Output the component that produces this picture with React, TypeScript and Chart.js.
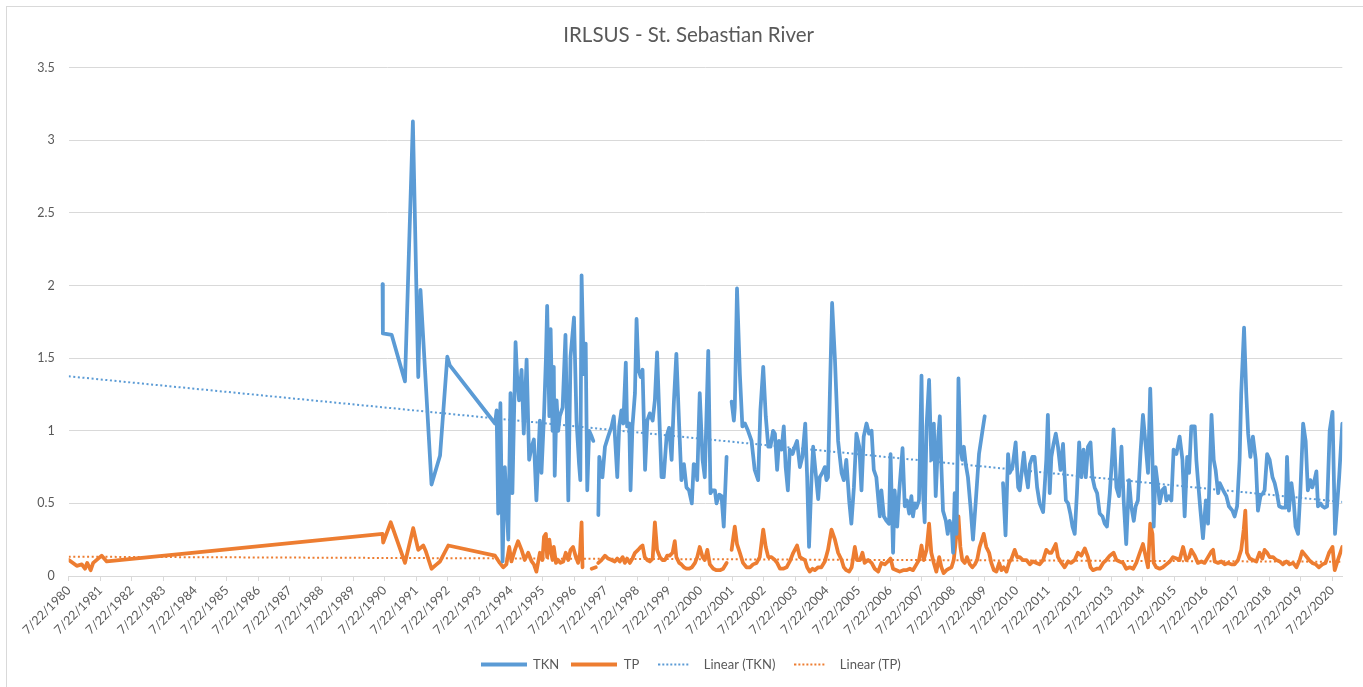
import React, { useEffect, useRef } from "react";
import { Chart, registerables } from "chart.js";

Chart.register(...registerables);

const TITLE = "IRLSUS - St. Sebastian River";
const tickYears = [
  1980, 1981, 1982, 1983, 1984, 1985, 1986, 1987, 1988, 1989, 1990, 1991, 1992, 1993,
  1994, 1995, 1996, 1997, 1998, 1999, 2000, 2001, 2002, 2003, 2004, 2005, 2006, 2007,
  2008, 2009, 2010, 2011, 2012, 2013, 2014, 2015, 2016, 2017, 2018, 2019, 2020,
];
const tickPrefix = "7/22/";
const tickOffset = 0.555; // 22 July as a fraction of the year
const xStart = 1980.555;
const xEnd = 2020.87;

const tknDates = [
  1990.49, 1990.5, 1990.78, 1991.2, 1991.45, 1991.62, 1991.69, 1992.04, 1992.31, 1992.54, 1992.62,
  1994.05, 1994.1, 1994.15, 1994.22, 1994.29, 1994.36, 1994.47, 1994.54, 1994.6, 1994.7, 1994.75,
  1994.81, 1994.89, 1994.96, 1995.05, 1995.13, 1995.21, 1995.28, 1995.36, 1995.47, 1995.52, 1995.6,
  1995.66, 1995.7, 1995.77, 1995.81, 1995.87, 1995.91, 1995.94, 1996.0, 1996.05, 1996.1, 1996.19,
  1996.28, 1996.37, 1996.44, 1996.55, 1996.63, 1996.71, 1996.75, 1996.79, 1996.86, 1996.92, 1996.97,
  1997.03, 1997.11, 1997.16, 1997.24, 1997.32, 1997.35, 1997.45, 1997.53, 1997.63, 1997.74, 1997.81,
  1997.92, 1997.98, 1998.05, 1998.11, 1998.19, 1998.23, 1998.3, 1998.34, 1998.4, 1998.48, 1998.53,
  1998.59, 1998.66, 1998.72, 1998.8, 1998.87, 1998.95, 1999.04, 1999.11, 1999.18, 1999.27, 1999.32,
  1999.39, 1999.48, 1999.56, 1999.64, 1999.71, 1999.79, 1999.88, 1999.95, 2000.03, 2000.11, 2000.19,
  2000.28, 2000.34, 2000.41, 2000.45, 2000.53, 2000.62, 2000.69, 2000.8, 2000.87, 2000.93, 2001.01,
  2001.06, 2001.15, 2001.22, 2001.29, 2001.38, 2001.46, 2001.54, 2001.61, 2001.64, 2001.71, 2001.8,
  2001.88, 2001.96, 2002.06, 2002.17, 2002.27, 2002.38, 2002.45, 2002.54, 2002.62, 2002.7, 2002.77,
  2002.85, 2002.91, 2002.98, 2003.04, 2003.12, 2003.19, 2003.25, 2003.32, 2003.38, 2003.47, 2003.54,
  2003.61, 2003.7, 2003.78, 2003.87, 2003.93, 2003.99, 2004.07, 2004.12, 2004.2, 2004.28, 2004.33,
  2004.41, 2004.49, 2004.54, 2004.59, 2004.65, 2004.72, 2004.81, 2004.91, 2005.02, 2005.09, 2005.17,
  2005.26, 2005.33, 2005.41, 2005.49, 2005.58, 2005.65, 2005.72, 2005.81, 2005.89, 2005.97, 2006.04,
  2006.12, 2006.23, 2006.28, 2006.36, 2006.44, 2006.52, 2006.57, 2006.65, 2006.7, 2006.78, 2006.84,
  2006.95, 2007.02, 2007.09, 2007.16, 2007.23, 2007.28, 2007.34, 2007.39, 2007.47, 2007.55, 2007.6,
  2007.65, 2007.71, 2007.79, 2007.86, 2007.94, 2008.0, 2008.08, 2008.13, 2008.18, 2008.23, 2008.32,
  2008.38, 2008.44, 2008.51, 2008.55, 2008.6, 2008.66, 2008.72, 2008.78, 2008.84, 2008.89, 2008.95,
  2009.02, 2009.1, 2009.18, 2009.27, 2009.37, 2009.48, 2009.55, 2009.8, 2010.13, 2010.21, 2010.29,
  2010.34, 2010.43, 2010.53, 2010.61, 2010.66, 2010.79, 2010.85, 2010.92, 2010.98, 2011.06, 2011.13,
  2011.21, 2011.29, 2011.4, 2011.5, 2011.55, 2011.61, 2011.66, 2011.73, 2011.8, 2011.87, 2011.95,
  2012.03, 2012.12, 2012.19, 2012.26, 2012.33, 2012.4, 2012.47, 2012.54, 2012.61, 2012.68, 2012.75,
  2012.82, 2012.9, 2012.96, 2013.03, 2013.11, 2013.19, 2013.28, 2013.35, 2013.42, 2013.51, 2013.59,
  2013.63, 2013.72, 2013.8, 2013.88, 2013.95, 2014.03, 2014.12, 2014.19, 2014.27, 2014.33, 2014.4,
  2014.48, 2014.56, 2014.65, 2014.72, 2014.79, 2014.86, 2014.9, 2014.96, 2015.04, 2015.09, 2015.17,
  2015.25, 2015.3, 2015.38, 2015.46, 2015.53, 2015.62, 2015.72, 2015.81, 2015.88, 2015.96, 2016.02,
  2016.09, 2016.2, 2016.25, 2016.3, 2016.38, 2016.46, 2016.55, 2016.62, 2016.67, 2016.73, 2016.8,
  2016.86, 2016.94, 2016.99, 2017.1, 2017.2, 2017.28, 2017.39, 2017.46, 2017.54, 2017.62, 2017.67,
  2017.76, 2017.83, 2017.89, 2017.96, 2018.04, 2018.13, 2018.2, 2018.28, 2018.36, 2018.41, 2018.49,
  2018.57, 2018.66, 2018.73, 2018.8, 2018.87, 2018.97, 2019.08, 2019.12, 2019.18, 2019.26, 2019.33,
  2019.39, 2019.47, 2019.54, 2019.63, 2019.71, 2019.78, 2019.86, 2019.92, 2019.99, 2020.05, 2020.1,
  2020.18, 2020.24, 2020.31, 2020.39, 2020.47, 2020.56, 2020.64, 2020.77, 2020.87,
];
const tknValues = [
  2.01, 1.67, 1.66, 1.34, 3.13, 1.37, 1.97, 0.63, 0.83, 1.51, 1.45,
  1.05, 1.14, 0.43, 1.19, 0.1, 0.75, 0.25, 1.26, 0.57, 1.61, 1.37,
  1.21, 1.42, 0.98, 1.49, 0.8, 0.89, 0.94, 0.52, 1.07, 0.71, 1.1,
  1.49, 1.86, 1.1, 1.7, 1.0, 1.44, 0.69, 1.21, 1.0, 1.1, 1.16,
  1.66, 0.52, 1.51, 1.78, 1.07, 0.77, 0.66, 2.07, 1.39, 1.6, 0.59,
  1.0, 0.96, 0.93, null, 0.42, 0.82, 0.68, 0.89, 0.96, 1.03, 1.1,
  0.68, 1.03, 1.14, 1.05, 1.47, 1.03, 1.05, 0.59, 1.03, 1.26, 1.77,
  1.42, 1.37, 1.42, 0.73, 1.07, 1.12, 1.07, 1.21, 1.54, 0.98, 0.68,
  0.68, 0.96, 1.02, 0.8, 1.19, 1.53, 1.03, 0.66, 0.77, 0.61, 0.59,
  0.5, 0.77, 0.76, 0.66, 1.26, 0.8, 0.68, 1.55, 0.57, 0.59, 0.59,
  0.5, 0.56, 0.55, 0.34, 0.82, null, 1.2, 1.07, 1.16, 1.98, 1.39,
  1.03, 1.05, 1.0, 0.93, 0.73, 0.66, 1.14, 1.44, 1.1, 0.89, 0.89,
  1.0, 0.98, 0.73, 0.93, 0.87, 1.03, 0.75, 0.59, 0.87, 0.84, 0.89,
  0.93, 0.75, 0.82, 1.05, 0.68, 0.2, 0.68, 0.89, 0.71, 0.53, 0.68,
  0.71, 0.75, 0.66, 0.68, 1.26, 1.88, 1.49, 0.93, 0.71, 0.66, 0.8,
  0.52, 0.36, 0.61, 0.98, 0.89, 0.59, 0.96, 1.05, 0.98, 1.0, 0.73,
  0.68, 0.41, 0.59, 0.41, 0.38, 0.36, 0.84, 0.16, 0.59, 0.34, 0.57,
  0.88, 0.48, 0.52, 0.43, 0.55, 0.41, 0.5, 0.47, 0.52, 1.38, 0.57,
  0.37, 1.03, 1.35, 0.8, 1.05, 0.55, 0.96, 1.1, 0.75, 0.45, 0.38,
  0.29, 0.38, 0.32, 0.16, 0.57, 0.29, 1.36, 0.89, 0.8, 0.89, 0.77,
  0.68, 0.48, 0.25, 0.52, 0.84, 1.0, 1.1, null, 0.64, 0.28, 0.84,
  0.71, 0.75, 0.92, 0.61, 0.59, 0.85, 0.71, 0.61, 0.77, 0.82, 0.82,
  0.61, 0.5, 0.44, 0.8, 1.11, 0.57, 0.82, 0.91, 0.98, 0.89, 0.73,
  0.91, 0.52, 0.5, 0.43, 0.34, 0.29, 0.57, 0.92, 0.68, 0.87, 0.68,
  0.89, 0.92, 0.68, 0.61, 0.57, 0.43, 0.41, 0.36, 0.34, 0.57, 0.84,
  1.01, 0.61, 0.55, 0.89, 0.52, 0.22, 0.66, 0.48, 0.38, 0.48, 0.52,
  0.84, 1.11, 0.89, 0.71, 1.29, 0.8, 0.34, 0.75, 0.61, 0.5, 0.59,
  0.61, 0.52, 0.55, 0.52, 0.87, 0.84, 0.96, 0.8, 0.41, 0.82, 0.71,
  1.03, 1.03, 0.8, 0.66, 0.45, 0.26, 0.52, 0.36, 0.68, 1.11, 0.8,
  0.73, 0.57, 0.64, 0.59, 0.55, 0.48, 0.45, 0.41, 0.48, 0.8, 1.26,
  1.71, 1.26, 0.98, 0.82, 0.96, 0.8, 0.45, 0.55, 0.57, 0.59, 0.84,
  0.8, 0.68, 0.64, 0.57, 0.48, 0.47, 0.47, 0.82, 0.45, 0.64, 0.52,
  0.34, 0.29, 0.57, 1.05, 0.93, 0.59, 0.66, 0.61, 0.66, 0.72, 0.48,
  0.5, 0.48, 0.47, 0.48, 1.0, 1.13, 0.29, 0.68, 1.05,
];

const tpDates = [
  1980.56, 1980.81, 1980.97, 1981.07, 1981.14, 1981.25, 1981.33, 1981.6, 1981.76,
  1990.49, 1990.51, 1990.75, 1991.2, 1991.46, 1991.62, 1991.78, 1991.86, 1992.04, 1992.2,
  1992.31, 1992.57, 1994.05, 1994.2, 1994.31, 1994.41, 1994.5, 1994.57, 1994.68, 1994.78,
  1994.89, 1994.99, 1995.1, 1995.21, 1995.28, 1995.36, 1995.47, 1995.55, 1995.6, 1995.66,
  1995.7, 1995.77, 1995.81, 1995.87, 1995.91, 1995.98, 1996.05, 1996.12, 1996.21, 1996.29,
  1996.37, 1996.44, 1996.52, 1996.61, 1996.68, 1996.74, 1996.79, 1996.82, 1996.95, 1997.11,
  1997.24, 1997.28, 1997.32, 1997.42, 1997.53, 1997.63, 1997.74, 1997.84, 1997.92, 1998.0,
  1998.09, 1998.16, 1998.23, 1998.32, 1998.4, 1998.48, 1998.58, 1998.66, 1998.72, 1998.79,
  1998.87, 1998.95, 1999.04, 1999.11, 1999.18, 1999.27, 1999.35, 1999.43, 1999.5, 1999.58,
  1999.67, 1999.74, 1999.79, 1999.88, 1999.95, 2000.03, 2000.11, 2000.2, 2000.28, 2000.38,
  2000.45, 2000.53, 2000.62, 2000.69, 2000.77, 2000.85, 2000.96, 2001.06, 2001.17, 2001.27,
  2001.38, 2001.46, 2001.54, 2001.64, 2001.71, 2001.8, 2001.9, 2002.01, 2002.12, 2002.22,
  2002.33, 2002.43, 2002.54, 2002.62, 2002.7, 2002.8, 2002.91, 2002.98, 2003.07, 2003.17,
  2003.28, 2003.38, 2003.49, 2003.61, 2003.7, 2003.78, 2003.86, 2003.93, 2004.01, 2004.1,
  2004.17, 2004.28, 2004.38, 2004.49, 2004.59, 2004.7, 2004.81, 2004.91, 2005.02, 2005.09,
  2005.17, 2005.26, 2005.34, 2005.44, 2005.51, 2005.6, 2005.68, 2005.75, 2005.86, 2005.97,
  2006.07, 2006.18, 2006.28, 2006.39, 2006.49, 2006.57, 2006.65, 2006.76, 2006.86, 2006.97,
  2007.07, 2007.18, 2007.28, 2007.39, 2007.47, 2007.55, 2007.62, 2007.71, 2007.79, 2007.86,
  2007.94, 2008.02, 2008.11, 2008.18, 2008.25, 2008.34, 2008.42, 2008.5, 2008.57, 2008.66,
  2008.72, 2008.78, 2008.84, 2008.92, 2008.99, 2009.08, 2009.16, 2009.24, 2009.31, 2009.39,
  2009.52, 2009.6, 2009.69, 2009.76, 2009.84, 2009.92, 2010.01, 2010.08, 2010.15, 2010.24,
  2010.32, 2010.4, 2010.5, 2010.58, 2010.66, 2010.76, 2010.87, 2010.98, 2011.08, 2011.19,
  2011.29, 2011.4, 2011.5, 2011.59, 2011.66, 2011.71, 2011.8, 2011.87, 2011.98, 2012.08,
  2012.19, 2012.29, 2012.4, 2012.5, 2012.61, 2012.72, 2012.82, 2012.9, 2012.98, 2013.09,
  2013.19, 2013.3, 2013.4, 2013.51, 2013.63, 2013.72, 2013.82, 2013.93, 2014.03, 2014.14,
  2014.25, 2014.35, 2014.46, 2014.56, 2014.65, 2014.72, 2014.79, 2014.86, 2014.9, 2014.98,
  2015.09, 2015.19, 2015.3, 2015.41, 2015.51, 2015.62, 2015.72, 2015.83, 2015.93, 2016.02,
  2016.09, 2016.2, 2016.3, 2016.41, 2016.51, 2016.62, 2016.73, 2016.78, 2016.83, 2016.94,
  2017.04, 2017.15, 2017.25, 2017.36, 2017.46, 2017.57, 2017.67, 2017.75, 2017.8, 2017.85,
  2017.94, 2018.04, 2018.15, 2018.25, 2018.34, 2018.41, 2018.49, 2018.57, 2018.68, 2018.78,
  2018.89, 2018.99, 2019.1, 2019.2, 2019.31, 2019.42, 2019.52, 2019.6, 2019.71, 2019.82,
  2019.92, 2020.03, 2020.13, 2020.24, 2020.34, 2020.45, 2020.56, 2020.63, 2020.73, 2020.87,
];
const tpValues = [
  0.11, 0.07, 0.08, 0.05, 0.09, 0.04, 0.09, 0.14, 0.1,
  0.29, 0.23, 0.37, 0.09, 0.33, 0.18, 0.21, 0.17, 0.05, 0.08,
  0.1, 0.21, 0.14, 0.09, 0.06, 0.08, 0.2, 0.1, 0.18, 0.24,
  0.18, 0.11, 0.16, 0.1, 0.08, 0.03, 0.16, 0.11, 0.27, 0.29,
  0.13, 0.25, 0.18, 0.11, 0.2, 0.09, 0.11, 0.09, 0.1, 0.16,
  0.11, 0.18, 0.2, 0.13, 0.09, 0.16, 0.37, 0.06, null, 0.05,
  0.06, null, 0.09, 0.11, 0.14, 0.12, 0.11, 0.1, 0.12, 0.1,
  0.13, 0.09, 0.12, 0.09, 0.12, 0.16, 0.18, 0.2, 0.21, 0.13,
  0.11, 0.1, 0.12, 0.37, 0.18, 0.13, 0.11, 0.11, 0.14, 0.14,
  0.16, 0.24, 0.13, 0.09, 0.08, 0.06, 0.05, 0.05, 0.06, 0.09,
  0.13, 0.2, 0.13, 0.11, 0.18, 0.08, 0.05, 0.04, 0.04, 0.05,
  0.09, null, 0.18, 0.34, 0.22, 0.16, 0.09, 0.06, 0.06, 0.08,
  0.09, 0.13, 0.32, 0.2, 0.13, 0.13, 0.11, 0.09, 0.05, 0.05,
  0.06, 0.1, 0.16, 0.21, 0.13, 0.12, 0.11, 0.06, 0.03, 0.05,
  0.04, 0.06, 0.06, 0.1, 0.18, 0.32, 0.25, 0.16, 0.11, 0.06,
  0.04, 0.03, 0.06, 0.2, 0.11, 0.11, 0.16, 0.09, 0.11, 0.09,
  0.05, 0.03, 0.09, 0.08, 0.1, 0.12, 0.05, 0.04, 0.03, 0.04,
  0.04, 0.05, 0.04, 0.08, 0.11, 0.21, 0.11, 0.18, 0.36, 0.16,
  0.09, 0.03, 0.13, 0.06, 0.02, 0.04, 0.05, 0.06, 0.11, 0.29,
  0.41, 0.2, 0.11, 0.09, 0.13, 0.08, 0.06, 0.08, 0.11, 0.2,
  0.29, 0.2, 0.16, 0.09, 0.04, 0.03, 0.09, 0.04, 0.06, 0.03,
  0.09, 0.12, 0.18, 0.13, 0.13, 0.11, 0.11, 0.08, 0.1, 0.09,
  0.08, 0.11, 0.18, 0.16, 0.16, 0.18, 0.22, 0.13, 0.09, 0.06,
  0.1, 0.09, 0.11, 0.16, 0.14, 0.19, 0.13, 0.06, 0.04, 0.05,
  0.05, 0.09, 0.11, 0.14, 0.16, 0.11, 0.1, 0.09, 0.05, 0.06,
  0.05, 0.09, 0.16, 0.22, 0.13, 0.06, 0.36, 0.29, 0.09, 0.06,
  0.05, 0.06, 0.08, 0.1, 0.13, 0.12, 0.11, 0.2, 0.11, 0.13,
  0.18, 0.14, 0.09, 0.1, 0.09, 0.13, 0.17, 0.18, 0.1, 0.09,
  0.1, 0.08, 0.09, 0.08, 0.08, 0.11, 0.18, 0.32, 0.45, 0.16,
  0.12, 0.11, 0.1, 0.16, 0.12, 0.18, 0.16, 0.13, 0.13, 0.11,
  0.1, 0.08, 0.1, 0.08, 0.09, 0.06, 0.11, 0.17, 0.14, 0.11,
  0.09, 0.08, 0.06, 0.08, 0.09, 0.16, 0.2, 0.04, 0.11, 0.2,
];

const trendDates = [1980.555, 2020.87];
const tknTrend = [1.375, 0.51];
const tpTrend = [0.133, 0.098];

const BLUE = "#5B9BD5";
const ORANGE = "#ED7D31";
const TEXT = "#595959";
const GRID = "#D9D9D9";
const FONT = "Lato";

function toPoints(xs: number[], ys: (number | null)[]) {
  return xs.map((x, i) => ({ x, y: ys[i] }));
}

// Small canvases used as legend samples (solid line / round-dot line)
function legendSample(color: string, dotted: boolean): HTMLCanvasElement {
  const c = document.createElement("canvas");
  c.width = dotted ? 32 : 46;
  c.height = 6;
  const ctx = c.getContext("2d")!;
  ctx.fillStyle = color;
  if (dotted) {
    for (let x = 0; x + 2 <= c.width; x += 4) ctx.fillRect(x, 2, 2, 2);
  } else {
    ctx.fillRect(0, 1, c.width, 4);
  }
  return c;
}

const blockShift = {
  id: "blockShift",
  afterLayout(chart: any) {
    if (chart.legend) {
      chart.legend.left += 19.5;
      chart.legend.right += 19.5;
    }
    if (chart.titleBlock) {
      chart.titleBlock.left += 17.5;
      chart.titleBlock.right += 17.5;
    }
  },
};

export default function App() {
  const ref = useRef<HTMLCanvasElement | null>(null);

  useEffect(() => {
    if (!ref.current) return;
    const chart = new Chart(ref.current, {
      type: "line",
      plugins: [blockShift],
      data: {
        datasets: [
          {
            label: "TKN",
            data: toPoints(tknDates, tknValues),
            borderColor: BLUE,
            backgroundColor: BLUE,
            borderWidth: 3.75,
            pointRadius: 0,
            tension: 0,
            spanGaps: false,
            borderJoinStyle: "round",
            borderCapStyle: "round",
            pointStyle: legendSample(BLUE, false),
          },
          {
            label: "TP",
            data: toPoints(tpDates, tpValues),
            borderColor: ORANGE,
            backgroundColor: ORANGE,
            borderWidth: 3.75,
            pointRadius: 0,
            tension: 0,
            spanGaps: false,
            borderJoinStyle: "round",
            borderCapStyle: "round",
            pointStyle: legendSample(ORANGE, false),
          },
          {
            label: "Linear (TKN)",
            data: toPoints(trendDates, tknTrend),
            borderColor: BLUE,
            backgroundColor: BLUE,
            borderWidth: 2,
            borderDash: [2, 2.6],
            pointRadius: 0,
            pointStyle: legendSample(BLUE, true),
          },
          {
            label: "Linear (TP)",
            data: toPoints(trendDates, tpTrend),
            borderColor: ORANGE,
            backgroundColor: ORANGE,
            borderWidth: 2,
            borderDash: [2, 2.6],
            pointRadius: 0,
            pointStyle: legendSample(ORANGE, true),
          },
        ],
      },
      options: {
        animation: false,
        responsive: false,
        layout: { padding: { left: 0, right: 20.7, top: 0, bottom: 6 } },
        plugins: {
          title: {
            display: true,
            text: TITLE,
            color: TEXT,
            font: { family: FONT, size: 20.5, weight: "normal" },
            padding: { top: 22.7, bottom: 20.4 },
          },
          legend: {
            position: "bottom",
            labels: {
              usePointStyle: true,
              pointStyleWidth: 46,
              boxHeight: 13,
              color: TEXT,
              font: { family: FONT, size: 13 },
              padding: 12,
            },
          },
          tooltip: { enabled: false },
        },
        scales: {
          x: {
            type: "linear",
            min: xStart,
            max: xEnd,
            afterBuildTicks: (s: any) => {
              s.ticks = tickYears.map((y) => ({ value: y + tickOffset }));
            },
            afterFit: (s: any) => {
              s.height = 70;
            },
            ticks: {
              autoSkip: false,
              minRotation: 45,
              maxRotation: 45,
              color: TEXT,
              font: { family: FONT, size: 12.5 },
              padding: 2,
              callback: (v: any) => tickPrefix + Math.round(Number(v) - tickOffset),
            },
            grid: { drawOnChartArea: false, drawTicks: true, tickLength: 5, color: GRID },
            border: { display: true, color: GRID },
          },
          y: {
            min: 0,
            max: 3.5,
            afterFit: (s: any) => {
              s.width = 68.7;
            },
            ticks: {
              stepSize: 0.5,
              color: TEXT,
              font: { family: FONT, size: 12.5 },
              padding: 14,
              callback: (v: any) => String(Number(v)),
            },
            grid: { color: GRID, drawTicks: false },
            border: { display: false },
          },
        },
      },
    } as any);
    return () => chart.destroy();
  }, []);

  return (
    <div
      style={{
        position: "fixed",
        left: 0,
        top: 0,
        width: 1363,
        height: 687,
        overflow: "hidden",
        background: "#fff",
      }}
    >
      <canvas ref={ref} width={1363} height={687} style={{ display: "block" }} />
      <div
        style={{
          position: "absolute",
          left: 6,
          top: 6,
          width: 1400,
          height: 720,
          border: `1px solid ${GRID}`,
          pointerEvents: "none",
        }}
      />
    </div>
  );
}
